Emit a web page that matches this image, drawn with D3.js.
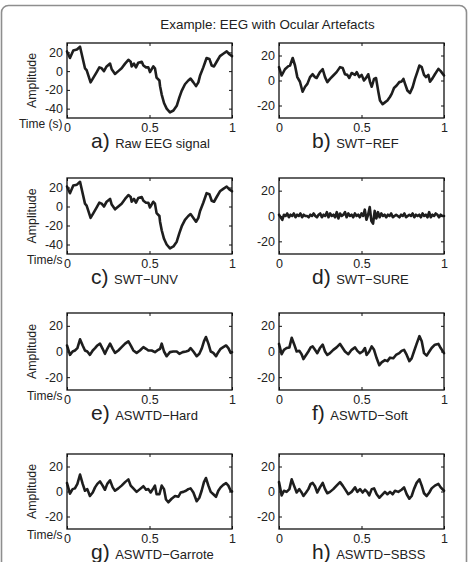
<!DOCTYPE html>
<html><head><meta charset="utf-8">
<script src="https://cdn.jsdelivr.net/npm/d3@7"></script>
<style>body{margin:0;background:#fff}svg{display:block}</style>
</head><body>
<svg id="c" width="470" height="562"></svg>
<script>
const titleText = "Example: EEG with Ocular Artefacts";
const panelLetters = ["a)","b)","c)","d)","e)","f)","g)","h)"];
const panelNames = ["Raw EEG signal","SWT\u2212REF","SWT\u2212UNV","SWT\u2212SURE","ASWTD\u2212Hard","ASWTD\u2212Soft","ASWTD\u2212Garrote","ASWTD\u2212SBSS"];
const xTickValues = [0, 0.5, 1];
const yTicksWide = [-40, -20, 0, 20];
const yTicksNarrow = [-20, 0, 20];
const yDomainWide = [-50, 30];
const yDomainNarrow = [-30, 30];

// a) Raw EEG
const rawT = [0,.018,.038,.060,.079,.109,.119,.143,.160,.180,.196,.210,.224,.240,.261,.271,.291,.311,.331,.352,.372,.386,.392,.406,.418,.432,.453,.463,.479,.493,.503,.523,.533,.543,.560,.564,.574,.588,.604,.624,.645,.665,.681,.695,.715,.735,.749,.766,.782,.796,.806,.826,.846,.863,.877,.891,.907,.927,.947,.968,.984,1.0];
const rawV = [21,14,22,23,26,3,1,-12,-7,-1,4,3,0,5,8,2,-3,0,3,8,12,10,5,8,4,9,10,6,4,4,-1,5,3,-7,-10,-16,-25,-34,-40,-44,-42,-37,-28,-21,-14,-10,-8,-12,-16,-12,-5,4,14,13,6,5,10,16,18.5,21,18,16];
// b) SWT-REF
const refT = [0,.016,.036,.057,.067,.083,.097,.111,.127,.143,.158,.172,.188,.204,.218,.228,.248,.265,.279,.293,.309,.329,.349,.370,.386,.400,.414,.426,.440,.461,.471,.487,.501,.515,.531,.541,.552,.562,.576,.588,.602,.612,.628,.642,.657,.673,.683,.697,.713,.729,.743,.754,.764,.778,.794,.810,.824,.838,.851,.865,.879,.891,.905,.915,.931,.945,.966,.980,1.0];
const refV = [10.7,4,9,11.5,12,18,12,2.7,-1,-9,-5,-2.7,2.7,5,2.7,2,6.7,9,2.7,-1.3,1.3,4,6.7,10.7,10,5,4.5,2,6,4.5,6.7,2.7,4.5,0,2.7,5,-1.3,-5,1.3,2,-9,-16,-19,-17.5,-16,-13,-10.7,-6,-4,-1.3,-0.8,1.3,-2.7,-8,-10,-5.3,1.3,6.7,12,10.7,4.5,2.7,4.5,-1,1.9,5,9.3,7.5,4];
// c) SWT-UNV
const unvT = [0,.018,.038,.060,.079,.109,.119,.143,.160,.180,.196,.210,.224,.240,.261,.271,.291,.311,.331,.352,.372,.386,.392,.406,.418,.432,.453,.463,.479,.493,.503,.523,.533,.543,.560,.564,.574,.588,.604,.624,.645,.665,.681,.695,.715,.735,.749,.766,.782,.796,.806,.826,.846,.863,.877,.891,.907,.927,.947,.968,.984,1.0];
const unvV = [21,14,22,23,26,3,1,-12,-7,-1,4,3,0,5,8,2,-3,0,3,8,12,10,5,8,4,9,10,6,4,4,-1,5,3,-7,-10,-16,-25,-34,-40,-44,-42,-37,-28,-21,-14,-10,-8,-12,-16,-12,-5,4,14,13,6,5,10,16,18.5,21,18,16];
// d) SWT-SURE
const sureT = [0,.01,.02,.03,.04,.05,.06,.07,.08,.09,.10,.11,.12,.13,.14,.15,.16,.17,.18,.19,.20,.21,.22,.23,.24,.25,.26,.27,.28,.29,.30,.31,.32,.33,.34,.35,.36,.37,.38,.39,.40,.41,.42,.43,.44,.45,.46,.47,.48,.49,.50,.51,.52,.53,.54,.55,.56,.57,.58,.59,.60,.61,.62,.63,.64,.65,.66,.67,.68,.69,.70,.71,.72,.73,.74,.75,.76,.77,.78,.79,.80,.81,.82,.83,.84,.85,.86,.87,.88,.89,.90,.91,.92,.93,.94,.95,.96,.97,.98,.99,1.0];
const sureV = [1,-1,-3,1,0,2,-1,1,0,2,-1,1,0,2,-1,1,0,0,-1,1,0,2,0,-1,1,2,-1,1,0,3,-1,2,0,1,-1,3,-2,2,0,1,3,-1,2,0,1,-1,2,0,1,-1,2,0,5,-3,1,7,-4,-6,4,-2,3,-1,2,0,1,-1,1,0,2,-1,0,1,0,-1,1,0,2,-1,0,1,0,2,-1,1,0,1,-1,2,0,1,-1,3,-1,1,0,2,1,-1,1,0,0];
// e) ASWTD-Hard
const hardT = [0,.018,.034,.048,.063,.079,.095,.109,.123,.139,.156,.170,.184,.200,.216,.230,.244,.261,.277,.291,.311,.331,.352,.372,.386,.402,.422,.442,.463,.479,.493,.513,.533,.547,.564,.574,.588,.604,.624,.644,.665,.681,.701,.721,.735,.749,.766,.786,.802,.816,.830,.842,.857,.871,.887,.903,.917,.931,.947,.964,.978,.992,1.0];
const hardV = [4.7,-2.6,0,0.8,2.6,9.5,4.7,0.8,0,-2.6,0.8,2.6,4.7,6.1,2.1,-1.8,2.1,6.1,2.1,-1.1,0.8,3.4,6.1,7.9,4.7,0.8,-1.1,0.8,3.4,2.1,0.8,0.8,-0.5,0.8,2.1,6.1,0,-3.7,-0.5,0,0,-1.8,-0.5,0,0.5,2.6,0,-3.7,-1.8,2.1,7.9,11.3,6.1,0,-1.1,-3.7,-0.5,2.1,3.4,4.7,2.6,-1.1,-0.5];
// f) ASWTD-Soft
const softT = [0,.016,.030,.046,.063,.077,.091,.107,.123,.137,.148,.164,.178,.192,.204,.218,.232,.248,.265,.279,.293,.309,.329,.349,.370,.386,.400,.420,.440,.461,.475,.491,.507,.521,.531,.547,.562,.576,.592,.608,.622,.642,.657,.673,.693,.709,.729,.743,.758,.774,.790,.804,.818,.834,.851,.865,.879,.895,.911,.925,.945,.966,.980,1.0];
const softV = [5.9,-2.1,1.3,2.7,3.2,10.7,5.9,0,0.5,-2.1,-5.9,-2.7,0,3.2,4,1.3,-1.3,2.7,5.3,0,-2.7,-1.3,1.3,3.2,5.9,2.7,0,-2.1,1.3,3.2,0.5,-1.3,0,2.7,-2.7,0,4,1.3,-5.3,-10.7,-8.5,-6.7,-7.5,-4.8,-5.3,-2.7,-1.3,0.5,1.3,-2.7,-7.5,-5.3,0,5.9,12,8,-1.3,-3.2,0,2.7,5.3,5.9,2.7,-1.3];
// g) ASWTD-Garrote
const garT = [0,.018,.034,.048,.063,.079,.095,.109,.123,.139,.156,.170,.184,.200,.216,.230,.244,.261,.277,.291,.311,.331,.352,.372,.386,.402,.422,.442,.463,.479,.493,.507,.523,.533,.543,.560,.574,.588,.600,.614,.634,.655,.675,.689,.705,.721,.735,.749,.766,.786,.802,.816,.830,.842,.857,.871,.887,.903,.917,.931,.947,.964,.978,.992,1.0];
const garV = [6.7,-1.7,1.9,2.5,6.1,13.6,6.1,0.6,1.9,-3.6,-0.8,3.3,6.1,8.1,4.7,1.4,6.1,8.9,3.3,0.6,2.5,4.7,7.5,9.7,4.7,2.5,-0.3,1.9,4.2,1.4,1.9,-0.8,2.5,4.7,-2.2,-2.2,4.7,1.9,-6.4,-8.6,-5.8,-3.6,-4.2,-0.8,-0.3,0.6,1.9,2.5,-0.8,-7.8,-5,0.6,7.5,10.8,4.7,-0.3,-2.2,-4.2,0.6,3.3,5.3,6.7,4.7,0.6,0];
// h) ASWTD-SBSS
const sbssT = [0,.016,.030,.046,.063,.077,.091,.107,.123,.137,.148,.164,.178,.192,.204,.218,.232,.248,.265,.279,.293,.309,.329,.349,.370,.386,.400,.420,.440,.461,.475,.491,.507,.521,.535,.547,.562,.576,.592,.608,.622,.642,.657,.673,.689,.703,.723,.743,.758,.774,.790,.804,.818,.834,.851,.865,.879,.895,.911,.925,.945,.966,.980,1.0];
const sbssV = [7.5,-3.1,0.6,-0.3,1.9,9.7,4.7,-0.8,1.9,-0.8,-3.6,-0.8,1.9,6.1,6.9,4.2,-0.8,3.3,6.9,1.9,-1.4,-0.3,1.9,4.7,7.5,4.7,1.9,-2.2,-0.3,3.3,-0.3,1.9,-0.8,1.4,-0.3,-3.1,1.9,2.5,-2.2,-5,-3.1,-0.3,-2.2,-0.3,-2.2,0.6,-0.3,1.4,3.3,-2.2,-5.8,-3.6,1.9,6.9,9.7,4.7,-1.4,-3.6,-0.8,2.5,4.7,6.1,3.3,0.6];

const seriesT = [rawT, refT, unvT, sureT, hardT, softT, garT, sbssT];
const seriesV = [rawV, refV, unvV, sureV, hardV, softV, garV, sbssV];

const FONT = "'Liberation Sans', Arial, Helvetica, sans-serif";
const svg = d3.select("#c");

svg.append("rect").attr("x", 1.5).attr("y", 5.5).attr("width", 465).attr("height", 640)
  .attr("rx", 7).attr("fill", "none").attr("stroke", "#8e8e8e").attr("stroke-width", 1.6);

svg.append("text").attr("x", 267.5).attr("y", 29).attr("text-anchor", "middle")
  .style("font-family", FONT).style("font-size", "13.4px").attr("fill", "#222").text(titleText);

const colX = [67, 279];
const plotW = 165;
const rowTop = [43, 178, 313, 454];
const rowH = [75, 76, 77, 75];
const capX = [91, 312];

for (let i = 0; i < 8; i++) {
  const col = i % 2, row = Math.floor(i / 2);
  const x0 = colX[col], y0 = rowTop[row], h = rowH[row];
  const wide = (i === 0 || i === 2);
  const x = d3.scaleLinear().domain([0, 1]).range([x0, x0 + plotW]);
  const y = d3.scaleLinear().domain(wide ? yDomainWide : yDomainNarrow).range([y0 + h, y0]);
  const yt = wide ? yTicksWide : yTicksNarrow;
  const g = svg.append("g");

  const styleAxis = sel => {
    sel.select(".domain").remove();
    sel.selectAll("line").attr("stroke", "#111").attr("stroke-width", 1);
    sel.selectAll("text").style("font-family", FONT).style("font-size", "12.5px").attr("fill", "#222");
  };
  g.append("g").attr("transform", `translate(0,${y0 + h})`)
    .call(d3.axisBottom(x).tickValues(xTickValues).tickSizeInner(-3).tickSizeOuter(0).tickPadding(5).tickFormat(d3.format("")))
    .call(styleAxis);
  g.append("g").attr("transform", `translate(0,${y0})`)
    .call(d3.axisTop(x).tickValues(xTickValues).tickSizeInner(-3).tickSizeOuter(0).tickFormat(""))
    .call(styleAxis);
  g.append("g").attr("transform", `translate(${x0},0)`)
    .call(d3.axisLeft(y).tickValues(yt).tickSizeInner(-3).tickSizeOuter(0).tickPadding(4).tickFormat(d => d < 0 ? "-" + Math.abs(d) : String(d)))
    .call(styleAxis);
  g.append("g").attr("transform", `translate(${x0 + plotW},0)`)
    .call(d3.axisRight(y).tickValues(yt).tickSizeInner(-3).tickSizeOuter(0).tickFormat(""))
    .call(styleAxis);

  const pts = seriesT[i].map((t, k) => [t, seriesV[i][k]]);
  g.append("path").datum(pts)
    .attr("d", d3.line().x(d => x(d[0])).y(d => y(d[1])))
    .attr("fill", "none").attr("stroke", "#1e1e1e").attr("stroke-width", 2.6)
    .attr("stroke-linejoin", "round").attr("stroke-linecap", "round");

  g.append("rect").attr("x", x0).attr("y", y0).attr("width", plotW).attr("height", h)
    .attr("fill", "none").attr("stroke", "#111").attr("stroke-width", 1.3);

  if (col === 0) {
    g.append("text").attr("transform", `translate(36,${y0 + h / 2}) rotate(-90)`)
      .attr("text-anchor", "middle").style("font-family", FONT).style("font-size", "12.4px")
      .attr("fill", "#222").text("Amplitude");
    g.append("text").attr("x", 62.5).attr("y", y0 + h + 9.5).attr("text-anchor", "end")
      .style("font-family", FONT).style("font-size", "12px").attr("fill", "#222")
      .text(row === 0 ? "Time (s)" : "Time/s");
  }

  const cap = g.append("text").attr("x", capX[col]).attr("y", y0 + h + 30)
    .style("font-family", FONT).attr("fill", "#222");
  cap.append("tspan").style("font-size", "21px").text(panelLetters[i]);
  cap.append("tspan").attr("dx", 5.5).style("font-size", "13px").text(panelNames[i]);
}
</script>
</body></html>
